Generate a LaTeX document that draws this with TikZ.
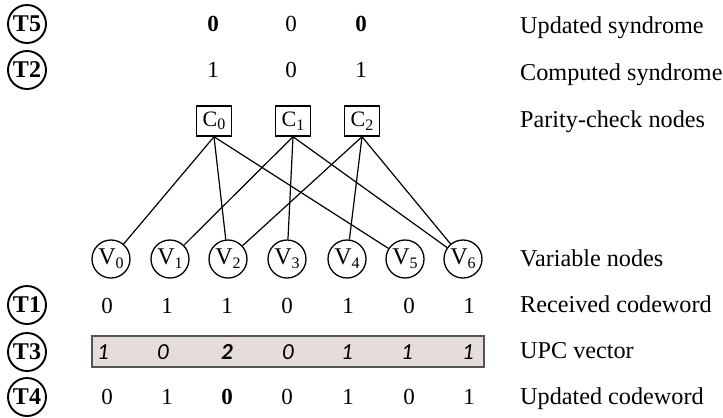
\documentclass[tikz,border=0pt]{standalone}
\usepackage{fontspec}
\setmainfont{Liberation Serif}
\newfontfamily\upcfont{Carlito}
\definecolor{upcfill}{HTML}{E6DCDC}
\definecolor{upcedge}{HTML}{555555}
% subscript used in the node names V_i and C_i
\newcommand{\idx}[1]{\raisebox{-0.35ex}{\fontsize{16bp}{16bp}\selectfont #1}}
\begin{document}
\begin{tikzpicture}[x=1bp,y=-1bp,
  digit/.style={inner sep=0pt, font=\fontsize{23bp}{27bp}\selectfont},
  tag/.style={circle, draw, line width=1.9bp, inner sep=0pt, minimum size=38bp,
    font=\fontsize{24bp}{28bp}\selectfont\bfseries},
  vnode/.style={circle, draw, line width=1.3bp, inner sep=0pt, minimum size=38bp,
    font=\fontsize{24bp}{28bp}\selectfont},
  cnode/.style={draw, line width=1.5bp, inner sep=0pt, minimum width=35bp,
    minimum height=30bp, font=\fontsize{22bp}{26bp}\selectfont},
  link/.style={line width=1.2bp},
  lab/.style={anchor=base west, inner sep=0pt, font=\fontsize{24.2bp}{28bp}\selectfont},
  upc/.style={inner sep=0pt, font=\upcfont\itshape\fontsize{23bp}{27bp}\selectfont},
  upcbox/.style={draw=upcedge, fill=upcfill, line width=1.2bp, inner sep=0pt,
    minimum width=392bp, minimum height=31bp}
]
\useasboundingbox (0,0) rectangle (723,417);

% step tags on the left
\node[tag] (t5) at (27,24)  {T5};
\node[tag] (t2) at (27,70)  {T2};
\node[tag] (t1) at (27,305) {T1};
\node[tag] (t3) at (27,352) {T3};
\node[tag] (t4) at (27,397) {T4};

% parity-check nodes
\node[cnode] (c0) at (214,121) {C\idx{0}};
\node[cnode] (c1) at (293,121) {C\idx{1}};
\node[cnode] (c2) at (362,121) {C\idx{2}};

% syndromes
\node[digit] (s50) at (213,24) {\textbf{0}};
\node[digit] (s51) at (291,24) {0};
\node[digit] (s52) at (361,24) {\textbf{0}};
\node[digit] (s20) at (213,70) {1};
\node[digit] (s21) at (291,70) {0};
\node[digit] (s22) at (361,70) {1};

% variable nodes
\foreach \i/\x in {0/111,1/170,2/228,3/287,4/347,5/405,6/463}
  \node[vnode] (v\i) at (\x,259) {V\idx{\i}};

% Tanner graph edges
\foreach \c/\v in {0/0,0/2,0/5,1/1,1/3,1/6,2/2,2/4,2/6}
  \draw[link] (c\c.south) -- (v\v);

% received codeword
\foreach \i/\x/\b in {0/107/0,1/167/1,2/227/1,3/287/0,4/348/1,5/409/0,6/469/1}
  \node[digit] (r\i) at (\x,306) {\b};

% UPC vector
\node[upcbox] (box) at (288,351.5) {};
\node[upc] (u0) at (103,352) {1};
\node[upc] (u1) at (163,352) {0};
\node[upc] (u2) at (227,352) {\bfseries 2};
\node[upc] (u3) at (288,352) {0};
\node[upc] (u4) at (347,352) {1};
\node[upc] (u5) at (407,352) {1};
\node[upc] (u6) at (468,352) {1};

% updated codeword
\foreach \i/\x/\b in {0/107/0,1/167/1,2/227/{\textbf{0}},3/287/0,4/348/1,5/409/0,6/469/1}
  \node[digit] (w\i) at (\x,397) {\b};

% row captions
\node[lab] (l5) at (520,33)  {Updated syndrome};
\node[lab] (l2) at (520,80)  {Computed syndrome};
\node[lab] (lc) at (520,127) {Parity-check nodes};
\node[lab] (lv) at (520,266) {Variable nodes};
\node[lab] (l1) at (520,312) {Received codeword};
\node[lab] (l3) at (520,358) {UPC vector};
\node[lab] (l4) at (520,404) {Updated codeword};
\end{tikzpicture}
\end{document}
